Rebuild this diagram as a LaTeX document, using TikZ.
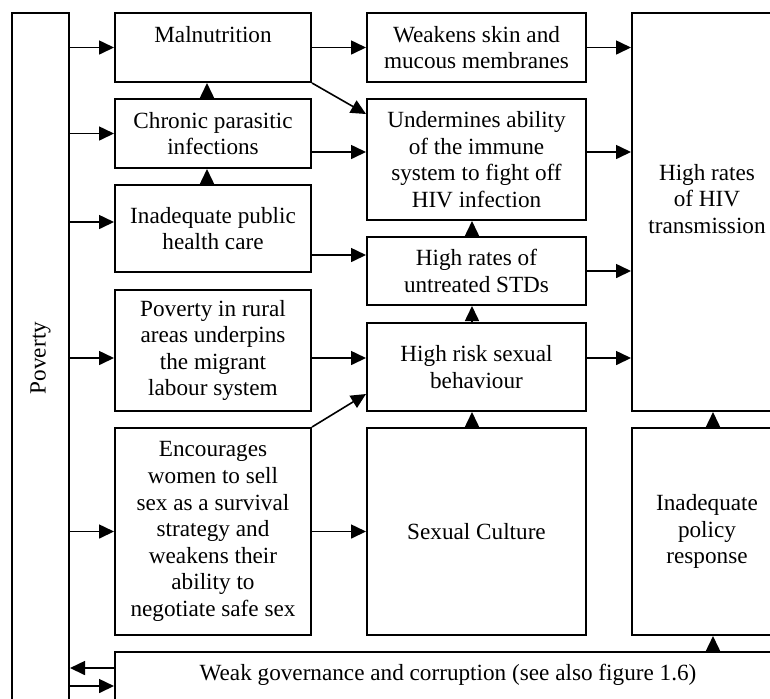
\documentclass[tikz,border=0pt]{standalone}
\usepackage{fontspec}
\setmainfont{Liberation Serif}
\usepackage{tikz}
\usetikzlibrary{arrows.meta}
\usetikzlibrary{calc}
\tikzset{
  box/.style={draw, line width=1pt, align=center, inner sep=2pt, font=\fontsize{11.6}{13.3}\selectfont},
  link/.style={->, line width=0.8pt},
}

\begin{document}
\begin{tikzpicture}[x=0.5pt,y=-0.5pt,>={Triangle[length=7.5pt,width=7pt]}]
\clip (0,0) rectangle (770,698);
\node[box,minimum width=28.5pt,minimum height=345pt] (pov) at (40.5,358) {\rotatebox{90}{Poverty}};
%\node[box,minimum width=98pt] (mal) at (213,47.5) {Malnutrition};
\node[box,minimum width=98pt,minimum height=34.5pt] (mal) at (213,47.5) {Malnutrition\\\mbox{}};
\node[box,minimum width=98pt,minimum height=34.5pt] (chr) at (213,133.5) {Chronic parasitic\\infections};
\node[box,minimum width=98pt,minimum height=43.5pt] (pub) at (213,228.5) {Inadequate public\\health care};
\node[box,minimum width=98pt,minimum height=60.5pt] (rur) at (213,350.5) {Poverty in rural\\areas underpins\\the migrant\\labour system};
\node[box,minimum width=98pt,minimum height=103.5pt] (enc) at (213,531.5) {Encourages\\women to sell\\sex as a survival\\strategy and\\weakens their\\ability to\\negotiate safe sex};
\node[box,minimum width=109.5pt,minimum height=34.5pt] (wsk) at (476.5,47.5) {Weakens skin and\\mucous membranes};
\node[box,minimum width=109.5pt,minimum height=60.5pt] (und) at (476.5,159.5) {Undermines ability\\of the immune\\system to fight off\\HIV infection};
\node[box,minimum width=109.5pt,minimum height=34pt] (std) at (476.5,271) {High rates of\\untreated STDs};
\node[box,minimum width=109.5pt,minimum height=44pt] (hrb) at (476.5,367) {High risk sexual\\behaviour};
\node[box,minimum width=109.5pt,minimum height=103.5pt] (sex) at (476.5,531.5) {Sexual Culture};
\node[box,minimum width=75pt,minimum height=199pt] (hiv) at (707,212) {High rates\\of HIV\\transmission\\\mbox{}};
\node[box,minimum width=75pt,minimum height=103.5pt] (pol) at (707,531.5) {Inadequate\\policy\\response};
\node[box,minimum width=333pt,minimum height=34pt] (gov) at (448,686) {Weak governance and corruption (see also figure 1.6)\\\mbox{}};
% helper points
\coordinate (p3) at ([yshift=3.25pt]pub.west);
\coordinate (s1) at ([yshift=8pt]std.west);
\coordinate (u1) at ([yshift=3.75pt]und.west);
\coordinate (u2) at ([yshift=-8pt]und.north west);
\coordinate (r1) at ([yshift=4.5pt]hrb.west);
\coordinate (r2) at ([yshift=9pt]hrb.south west);
\coordinate (g0) at ([xshift=3pt]pol.south);
\coordinate (g1) at ([yshift=-8.5pt]gov.north west);
% from poverty
\draw[link] (pov.east |- mal.west) -- (mal.west);
\draw[link] (pov.east |- chr.west) -- (chr.west);
\draw[link] (pov.east |- p3) -- (p3);
\draw[link] (pov.east |- r1) -- (rur.west |- r1);
\draw[link] (pov.east |- enc.west) -- (enc.west);
\draw[link] (g1) -- (pov.east |- g1);
\draw[link] (pov.east |- gov.west) -- (gov.west);
% middle
\draw[link] (mal.east) -- (wsk.west);
\draw[link] (mal.south east) -- (u2);
\draw[link] ([xshift=-3pt]chr.north) -- ([xshift=-3pt]mal.south);
\draw[link] ([xshift=-3pt]pub.north) -- ([xshift=-3pt]chr.south);
\draw[link] (chr.east |- u1) -- (u1);
\draw[link] (pub.east |- s1) -- (s1);
\draw[link] (rur.east |- r1) -- (r1);
\draw[link] (enc.north east) -- (r2);
\draw[link] (enc.east) -- (sex.west);
\draw[link] ([xshift=-2.25pt]std.north) -- ([xshift=-2.25pt]und.south);
\draw[link] ([xshift=-2.25pt]hrb.north) -- ([xshift=-2.25pt]std.south);
\draw[link] ([xshift=-2.25pt]sex.north) -- ([xshift=-2.25pt]hrb.south);
% into HIV
\draw[link] (wsk.east) -- (hiv.west |- wsk.east);
\draw[link] (und.east |- u1) -- (hiv.west |- u1);
\draw[link] (std.east) -- (hiv.west |- std.east);
\draw[link] (hrb.east |- r1) -- (hiv.west |- r1);
\draw[link] ([xshift=3pt]pol.north) -- ([xshift=3pt]hiv.south);
\draw[link] (g0 |- gov.north) -- (g0);
\end{tikzpicture}
\end{document}
